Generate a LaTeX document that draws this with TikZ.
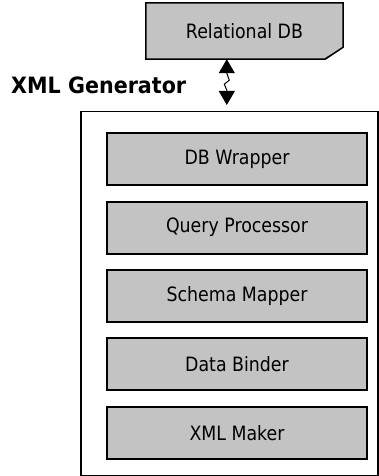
\documentclass[tikz,border=0pt]{standalone}
\usepackage{fontspec}
\setmainfont{DejaVu Sans}
\newfontfamily\boxfam[FakeStretch=0.88]{DejaVu Sans}
\newfontfamily\labfam[FakeStretch=0.92]{DejaVu Sans}
\usetikzlibrary{arrows.meta,calc}
\definecolor{boxgray}{RGB}{195,195,195}
\newcommand{\boxfont}{\setbox0\hbox{\boxfam\fontsize{10}{12}\selectfont Query Processor}\pgfmathsetmacro\bfsize{1420/\wd0}\boxfam\fontsize{\bfsize pt}{\bfsize pt}\selectfont}
\newcommand{\labelfont}{\setbox0\hbox{\labfam\bfseries\fontsize{10}{12}\selectfont XML Generator}\pgfmathsetmacro\lfsize{1750/\wd0}\labfam\bfseries\fontsize{\lfsize pt}{\lfsize pt}\selectfont}
\tikzset{
  layerbox/.style={draw=black, line width=2pt, fill=boxgray, minimum width=260pt, minimum height=52pt, inner sep=0pt},
  container/.style={draw=black, line width=1.5pt, minimum width=297pt, minimum height=364pt, inner sep=0pt},
  biarrow/.style={line width=1pt, {Triangle[length=14pt,width=16pt]}-{Triangle[length=14pt,width=16pt]}}
}
\begin{document}
\begin{tikzpicture}[x=1pt,y=-1pt]
\useasboundingbox (0,0) rectangle (378,476);
% Relational DB (document with curled corner)
\node[inner sep=0pt, minimum width=197pt, minimum height=56pt] (db) at (244.5,31) {};
\fill[boxgray] (db.north west) -- (db.north east) -- ($(db.south east)+(0,-12)$) -- ($(db.south east)+(-18,0)$) -- (db.south west) -- cycle;
\draw[line width=1.5pt] (db.north west) -- (db.north east) -- ($(db.south east)+(0,-12)$) -- ($(db.south east)+(-18,0)$) -- (db.south west) -- cycle;
\fill[black] ($(db.south east)+(-20,0)$) -- ($(db.south east)+(0,-12)$) -- ($(db.south east)+(-12,-4)$) -- cycle;
\node (dbtext) at (db) {\boxfont Relational DB};
% Generator label
\node[anchor=west, inner sep=0pt] (label) at (11,85) {\labelfont XML Generator};
% Container
\node[container, anchor=north west] (gen) at (80,111) {};
% Arrow
\coordinate (atop) at ($(db.south west)+(81,0)$);
\coordinate (abot) at (atop |- gen.north);
\draw[biarrow] (atop) -- ($(atop)+(0,14)$) -- ($(atop)+(2.5,21)$) -- ($(atop)+(-2.5,25)$) -- ($(atop)+(0,31)$) -- ($(abot)+(0,-6)$);
% Layers
\node[layerbox] (w) at (237,159) {\boxfont DB Wrapper};
\node[layerbox] (q) at (237,227.5) {\boxfont Query Processor};
\node[layerbox] (s) at (237,296) {\boxfont Schema Mapper};
\node[layerbox] (b) at (237,364) {\boxfont Data Binder};
\node[layerbox] (m) at (237,433) {\boxfont XML Maker};
\end{tikzpicture}
\end{document}
